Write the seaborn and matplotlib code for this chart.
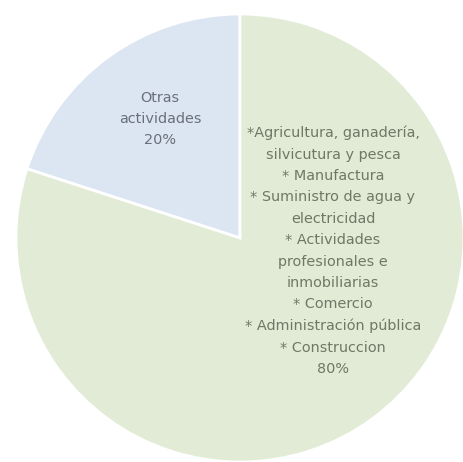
import matplotlib
matplotlib.use("Agg")
import matplotlib.pyplot as plt
import seaborn as sns

sns.set_theme(style="white")
plt.rcParams['font.family'] = ['DejaVu Sans']

# data
categories = ["Otras\nactividades",
              "*Agricultura, ganadería,\nsilvicutura y pesca\n* Manufactura\n"
              "* Suministro de agua y\nelectricidad\n* Actividades\nprofesionales e\n"
              "inmobiliarias\n* Comercio\n* Administración pública\n* Construccion"]
shares = [20, 80]
colors = ["#dce6f2", "#e2ebd6"]
text_colors = ["#6a707a", "#6e7866"]

fig = plt.figure(figsize=(4.64, 4.62), dpi=100)
ax = fig.add_axes([0, 0, 1, 1])
wedges, _ = ax.pie(shares, colors=colors, startangle=90, counterclock=True,
                   radius=1, wedgeprops=dict(edgecolor="white", linewidth=2))

# label positions (centre of each text block)
label_pos = [(-0.357, 0.531), (0.415, -0.058)]
for cat, val, (x, y), tc in zip(categories, shares, label_pos, text_colors):
    ax.text(x, y, f"{cat}\n{val}%", ha="center", va="center", fontsize=10.4,
            color=tc, linespacing=1.67)

ax.set_xlim(-240 / 224, 224 / 224)
ax.set_ylim(-224 / 224, 238 / 224)
ax.set_aspect("equal")
ax.axis("off")
fig.savefig("out.png", dpi=100, facecolor="white")
